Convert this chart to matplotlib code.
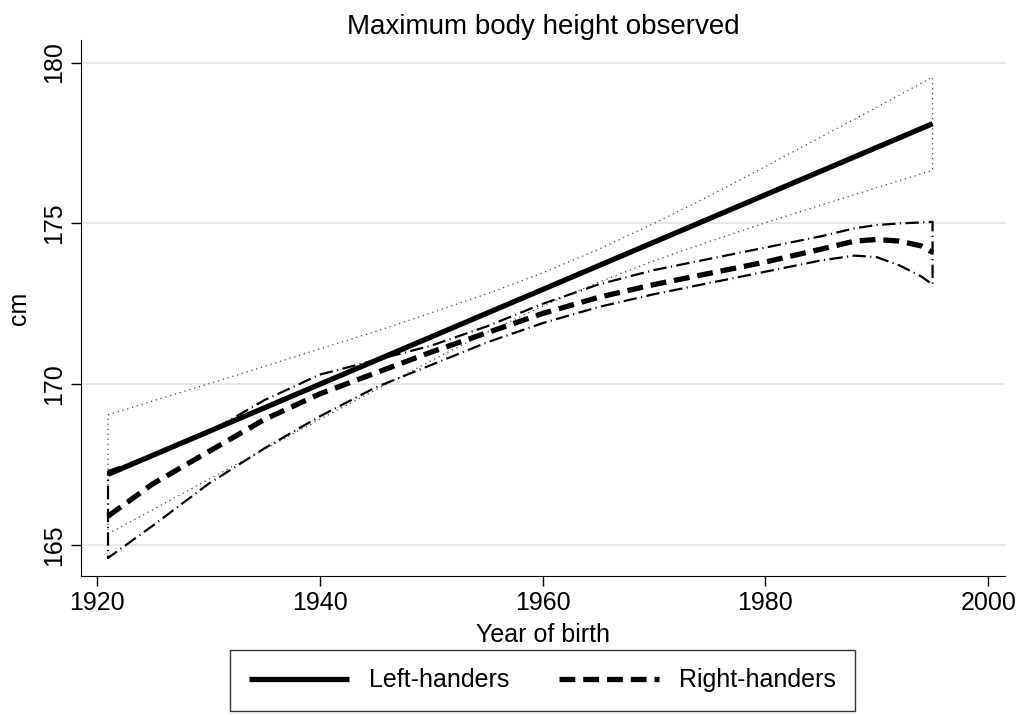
import numpy as np
import matplotlib.pyplot as plt

plt.rcParams['font.family'] = ['Liberation Sans', 'DejaVu Sans']

# left-handers: linear fit and its confidence band
left_years = [1921, 1995]
left_fit = [167.2, 178.1]
left_ci_years = [1921, 1925, 1930, 1935, 1940, 1945, 1950, 1955, 1960,
                 1965, 1970, 1975, 1980, 1985, 1990, 1995]
left_ci_upper = [169.05, 169.48, 170.01, 170.55, 171.10, 171.64, 172.22, 172.81, 173.46,
                 174.19, 175.00, 175.86, 176.77, 177.69, 178.61, 179.55]
left_ci_lower = [165.35, 166.10, 167.04, 167.97, 168.91, 169.82, 170.73, 171.61, 172.43,
                 173.17, 173.84, 174.44, 175.02, 175.57, 176.11, 176.65]

# right-handers: fractional polynomial fit and its confidence band
right_years = [1921, 1925, 1930, 1935, 1940, 1945, 1950, 1955, 1960, 1965,
               1970, 1975, 1980, 1985, 1988, 1990, 1992, 1994, 1995]
right_fit = [165.9, 166.9, 167.9, 168.9, 169.7, 170.35, 171.0, 171.6, 172.2, 172.7,
             173.1, 173.45, 173.8, 174.2, 174.45, 174.5, 174.45, 174.3, 174.1]
right_ci_upper = [167.3, 167.8, 168.5, 169.5, 170.3, 170.75, 171.2, 171.8, 172.5, 173.1,
                  173.55, 173.9, 174.25, 174.6, 174.85, 174.95, 175.0, 175.03, 175.05]
right_ci_lower = [164.6, 165.6, 166.9, 168.0, 169.0, 169.9, 170.6, 171.3, 171.9, 172.4,
                  172.8, 173.15, 173.5, 173.85, 174.0, 173.95, 173.7, 173.35, 173.1]

fig = plt.figure(figsize=(10.23, 7.15), dpi=100)
ax = fig.add_axes([0.0789, 0.1944, 0.9035, 0.7496])

# CI outlines drawn as closed polygons (gives the vertical ends)
lx = left_ci_years + left_ci_years[::-1] + [left_ci_years[0]]
ly = left_ci_upper + left_ci_lower[::-1] + [left_ci_upper[0]]
ax.plot(lx, ly, color='#444444', lw=0.9, linestyle=(0, (1, 3)))

rx = right_years + right_years[::-1] + [right_years[0]]
ry = right_ci_upper + right_ci_lower[::-1] + [right_ci_upper[0]]
ax.plot(rx, ry, color='black', lw=1.6, linestyle=(0, (6, 2, 0.5, 2)))

ax.plot(left_years, left_fit, color='black', lw=3.8, solid_capstyle='butt',
        label='Left-handers')
ax.plot(right_years, right_fit, color='black', lw=3.8, linestyle=(0, (3, 1.5)),
        label='Right-handers')

ax.set_xlim(1918.55, 2001.5)
ax.set_ylim(164.04, 180.7)
ax.set_xticks([1920, 1940, 1960, 1980, 2000])
ax.set_yticks([165, 170, 175, 180])
ax.grid(axis='y', color='#e5e5e5', lw=1.3)
ax.set_axisbelow(True)
for s in ['top', 'right']:
    ax.spines[s].set_visible(False)
ax.tick_params(length=7, width=1, labelsize=18)
plt.setp(ax.get_yticklabels(), rotation=90, va='center')

ax.set_xlabel('Year of birth', fontsize=18, labelpad=6)
ax.set_ylabel('cm', fontsize=18, labelpad=8)
ax.set_title('Maximum body height observed', fontsize=20, pad=4)

fig.legend(loc='lower center', bbox_to_anchor=(0.53, -0.012), ncol=2,
           fontsize=18, frameon=True, fancybox=False, edgecolor='black',
           handlelength=4, columnspacing=2, borderpad=0.75)

plt.savefig('out.png', dpi=100)
